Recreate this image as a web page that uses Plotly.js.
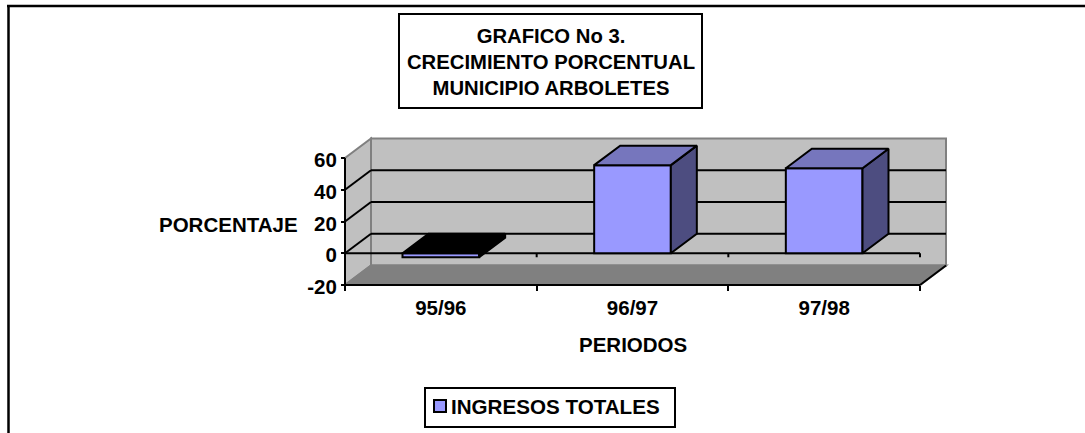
<!DOCTYPE html>
<html>
<head>
<meta charset="utf-8">
<script src="https://cdn.plot.ly/plotly-3.0.1.min.js"></script>
<style>html,body{margin:0;padding:0;background:#fff;overflow:hidden}#chart{width:1085px;height:433px}</style>
</head>
<body>
<div id="chart"></div>
<script>
var categories = ["95/96", "96/97", "97/98"];
var ingresosTotales = [-2.5, 55.5, 53.5];
var seriesName = "INGRESOS TOTALES";
var yTicks = [-20, 0, 20, 40, 60];
var yTickText = ["-20", "0", "20", "40", "60"];
var gridValues = [0, 20, 40];
var titleText = "GRAFICO No 3.<br>CRECIMIENTO PORCENTUAL<br>MUNICIPIO ARBOLETES";
var topColors = ["#000000", "#7676bd", "#7676bd"];
var sideColors = ["#000000", "#4d4d80", "#4d4d80"];

var W = 1085, H = 433;
var FONT = "'Liberation Sans', Arial, sans-serif";
var FS = 20.5;
function px(x){ return x / W; }
function py(y){ return 1 - y / H; }

// front frame of the pseudo-3D box, in pixels
var frontL = 345, frontR = 920, frontB = 285, frontT = 158;
var depthPx = 26, depthPy = 19.5, pad = 4;
var pxPerX = (frontR - frontL) / categories.length;
var pxPerY = (frontB - frontT) / 80;
var dX = depthPx / pxPerX, dY = depthPy / pxPerY;
var xMin = -0.5, xMax = categories.length - 0.5, yMin = -20, yMax = 60;
var plotL = frontL - pad, plotR = frontR + depthPx + pad;
var plotT = frontT - depthPy - pad, plotB = frontB + pad;

var barWidth = 0.4;
var catPos = categories.map(function(c, i){ return i; });
var edges = [-0.5, 0.5, 1.5, 2.5];

var traces = [{
  type: "bar", name: seriesName, x: catPos, y: ingresosTotales, width: barWidth,
  marker: {color: "#9999ff", line: {color: "#000", width: 2}}, hoverinfo: "x+y"
}];
ingresosTotales.forEach(function(v, i){
  var l = i - barWidth / 2, r = i + barWidth / 2;
  var t = Math.max(v, 0), b = Math.min(v, 0);
  traces.push({type: "scatter", mode: "lines", showlegend: false, hoverinfo: "skip",
    x: [r, r + dX, r + dX, r, r], y: [t, t + dY, b + dY, b, t],
    fill: "toself", fillcolor: sideColors[i], line: {color: "#000", width: 2}});
  traces.push({type: "scatter", mode: "lines", showlegend: false, hoverinfo: "skip",
    x: [l, l + dX, r + dX, r, l], y: [t, t + dY, t + dY, t, t],
    fill: "toself", fillcolor: topColors[i], line: {color: "#000", width: 2}});
});

function poly(pts, fill, lineColor){
  var d = pts.map(function(p, i){ return (i ? "L" : "M") + p[0] + "," + p[1]; }).join("") + "Z";
  return {type: "path", xref: "x", yref: "y", layer: "below", path: d, fillcolor: fill,
          line: {color: lineColor, width: 2}};
}
function seg(x0, y0, x1, y1, color){
  return {type: "line", xref: "x", yref: "y", layer: "below", x0: x0, y0: y0, x1: x1, y1: y1,
          line: {color: color, width: 2}};
}
function box(l, t, r, b){
  return {type: "rect", xref: "paper", yref: "paper", x0: px(l), x1: px(r), y0: py(b), y1: py(t),
          line: {color: "#000", width: 2}, fillcolor: "rgba(0,0,0,0)"};
}
function paperLine(x0, y0, x1, y1, w){
  return {type: "line", xref: "paper", yref: "paper", x0: px(x0), y0: py(y0), x1: px(x1), y1: py(y1),
          line: {color: "#000", width: w}};
}

var shapes = [
  poly([[xMin + dX, yMin + dY], [xMax + dX, yMin + dY], [xMax + dX, yMax + dY], [xMin + dX, yMax + dY]], "#c0c0c0", "#808080"),
  poly([[xMin, yMin], [xMin + dX, yMin + dY], [xMin + dX, yMax + dY], [xMin, yMax]], "#c0c0c0", "#808080"),
  poly([[xMin, yMin], [xMin + dX, yMin + dY], [xMax + dX, yMin + dY], [xMax, yMin]], "#808080", "#808080")
];
gridValues.forEach(function(g){
  shapes.push(seg(xMin, g, xMin + dX, g + dY, "#000"));
  shapes.push(seg(xMin + dX, g + dY, xMax + dX, g + dY, "#000"));
});
shapes.push(seg(xMin, 0, xMax, 0, "#000"));
edges.slice(1).forEach(function(e){ shapes.push(seg(e, 0, e, -4 / pxPerY, "#000")); });
shapes.push(seg(xMin, yMin, xMin, yMax, "#000"));
shapes.push(seg(xMin, yMin, xMax, yMin, "#000"));
shapes.push(seg(xMax, yMin, xMax + dX, yMin + dY, "#000"));
shapes.push(box(399, 14, 702, 108));
shapes.push(box(425, 388, 675, 427));
shapes.push(paperLine(7, 6, 1085, 6, 2.5));
shapes.push(paperLine(8.5, 5, 8.5, 433, 2.5));

var layout = {
  width: W, height: H, margin: {l: 0, r: 0, t: 0, b: 0, pad: 0},
  paper_bgcolor: "#fff", plot_bgcolor: "rgba(0,0,0,0)",
  font: {family: FONT, size: FS, color: "#000", weight: 700},
  title: {text: titleText, x: px(551), xanchor: "center", xref: "paper",
          y: py(42.5), yanchor: "middle", yref: "paper",
          font: {family: FONT, size: 20.3, color: "#000", weight: 700}},
  showlegend: true,
  legend: {x: px(420), xanchor: "left", y: py(406), yanchor: "middle", borderwidth: 0,
           bgcolor: "rgba(0,0,0,0)", font: {family: FONT, size: 20.6, color: "#000", weight: 700}},
  xaxis: {
    domain: [px(plotL), px(plotR)], anchor: "free", position: py(frontB),
    range: [xMin - pad / pxPerX, xMax + dX + pad / pxPerX],
    type: "linear", tickmode: "array", tickvals: catPos, ticktext: categories,
    ticks: "", showgrid: false, zeroline: false, showline: false, ticklabelstandoff: 8,
    tickfont: {family: FONT, size: FS, color: "#000", weight: 700},
    minor: {tickmode: "array", tickvals: edges, ticks: "outside", ticklen: 5, tickwidth: 2, tickcolor: "#000", showgrid: false}
  },
  yaxis: {
    domain: [py(plotB), py(plotT)], anchor: "free", position: px(frontL),
    range: [yMin - pad / pxPerY, yMax + dY + pad / pxPerY],
    tickmode: "array", tickvals: yTicks, ticktext: yTickText,
    ticks: "outside", ticklen: 4, tickwidth: 2, tickcolor: "#000", ticklabelshift: 2,
    showgrid: false, zeroline: false, showline: false,
    tickfont: {family: FONT, size: FS, color: "#000", weight: 700}
  },
  shapes: shapes,
  annotations: [
    {text: "PORCENTAJE", xref: "paper", yref: "paper", x: px(228), y: py(224), showarrow: false, xanchor: "center", yanchor: "middle"},
    {text: "PERIODOS", xref: "paper", yref: "paper", x: px(633), y: py(344), showarrow: false, xanchor: "center", yanchor: "middle"}
  ]
};

Plotly.newPlot("chart", traces, layout, {displayModeBar: false, staticPlot: true}).then(function(){
  var t = document.querySelector(".legendtext");
  if (t) { t.setAttribute("x", parseFloat(t.getAttribute("x")) - 9); }
});
</script>
</body>
</html>
